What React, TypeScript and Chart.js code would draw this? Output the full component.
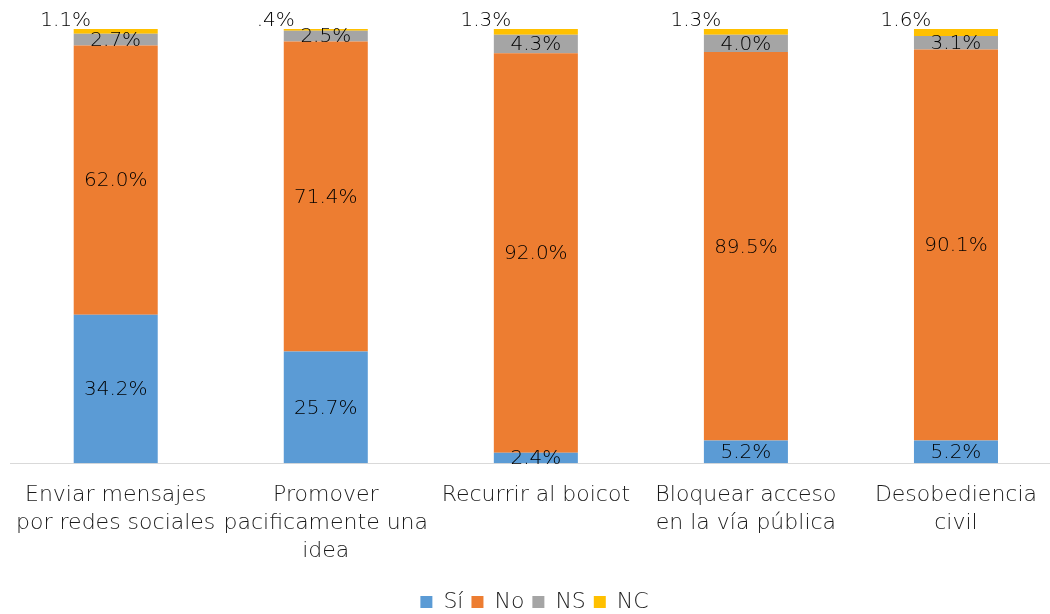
import React, { useEffect, useRef } from "react";
import { Chart, registerables } from "chart.js";

Chart.register(...registerables);

const categories: (string | string[])[] = [
  ["Enviar mensajes", "por redes sociales"],
  ["Promover", "pacificamente una", "idea"],
  "Recurrir al boicot",
  ["Bloquear acceso", "en la vía pública"],
  ["Desobediencia", "civil"],
];
const seriesNames = ["Sí", "No", "NS", "NC"];
const siValues = [34.2, 25.7, 2.4, 5.2, 5.2];
const noValues = [62.0, 71.4, 92.0, 89.5, 90.1];
const nsValues = [2.7, 2.5, 4.3, 4.0, 3.1];
const ncValues = [1.1, 0.4, 1.3, 1.3, 1.6];
const seriesColors = ["#5B9BD5", "#ED7D31", "#A5A5A5", "#FFC000"];

const FONT = "'DejaVu Sans', 'Open Sans', sans-serif";
const TEXT = "#1a1a1a";

const fmt = (v: number) => v.toFixed(1).replace(/^0/, "") + "%";

const labelPlugin = {
  id: "segLabels",
  afterDatasetsDraw(chart: any) {
    const ctx = chart.ctx;
    ctx.save();
    ctx.font = `200 20px ${FONT}`;
    ctx.fillStyle = "#000";
    ctx.textAlign = "center";
    ctx.textBaseline = "middle";
    chart.data.datasets.forEach((ds: any, di: number) => {
      const meta = chart.getDatasetMeta(di);
      meta.data.forEach((el: any, i: number) => {
        const { x, y, base } = el.getProps(["x", "y", "base"], true);
        const txt = fmt(ds.data[i]);
        if (di === 3) {
          ctx.fillText(txt, x - 50, y - 8);
        } else {
          ctx.fillText(txt, x, (y + base) / 2 + 1);
        }
      });
    });
    ctx.restore();
  },
};

export default function App() {
  const ref = useRef<HTMLCanvasElement>(null);
  useEffect(() => {
    if (!ref.current) return;
    const values = [siValues, noValues, nsValues, ncValues];
    const chart = new Chart(ref.current, {
      type: "bar",
      data: {
        labels: categories,
        datasets: seriesNames.map((name, i) => ({
          label: name,
          data: values[i],
          backgroundColor: seriesColors[i],
          borderWidth: 0,
          categoryPercentage: 1,
          barPercentage: 0.4,
        })),
      },
      options: {
        animation: false,
        responsive: true,
        maintainAspectRatio: false,
        layout: { padding: { left: 11, right: 11, top: 27, bottom: 0 } },
        plugins: {
          legend: {
            position: "bottom",
            labels: {
              boxWidth: 12,
              boxHeight: 12,
              padding: 8,
              color: TEXT,
              font: { family: FONT, size: 22, weight: "200" },
            },
          },
          tooltip: { enabled: false },
        },
        scales: {
          x: {
            stacked: true,
            grid: { display: false, drawTicks: false },
            border: { display: true, color: "#D9D9D9", width: 1 },
            ticks: {
              color: TEXT,
              padding: 18,
              maxRotation: 0,
              autoSkip: false,
              font: { family: FONT, size: 22, weight: "200", lineHeight: 1.27 },
            },
          },
          y: {
            stacked: true,
            display: false,
            min: 0,
            max: 100,
          },
        },
      },
      plugins: [labelPlugin],
    });
    return () => chart.destroy();
  }, []);
  return (
    <div
      style={{
        position: "absolute",
        left: 0,
        top: 0,
        width: 1050,
        height: 614,
        overflow: "hidden",
        background: "#fff",
      }}
    >
      <div style={{ position: "absolute", left: -3, top: 2, width: 1075, height: 621 }}>
        <canvas ref={ref} />
      </div>
    </div>
  );
}
